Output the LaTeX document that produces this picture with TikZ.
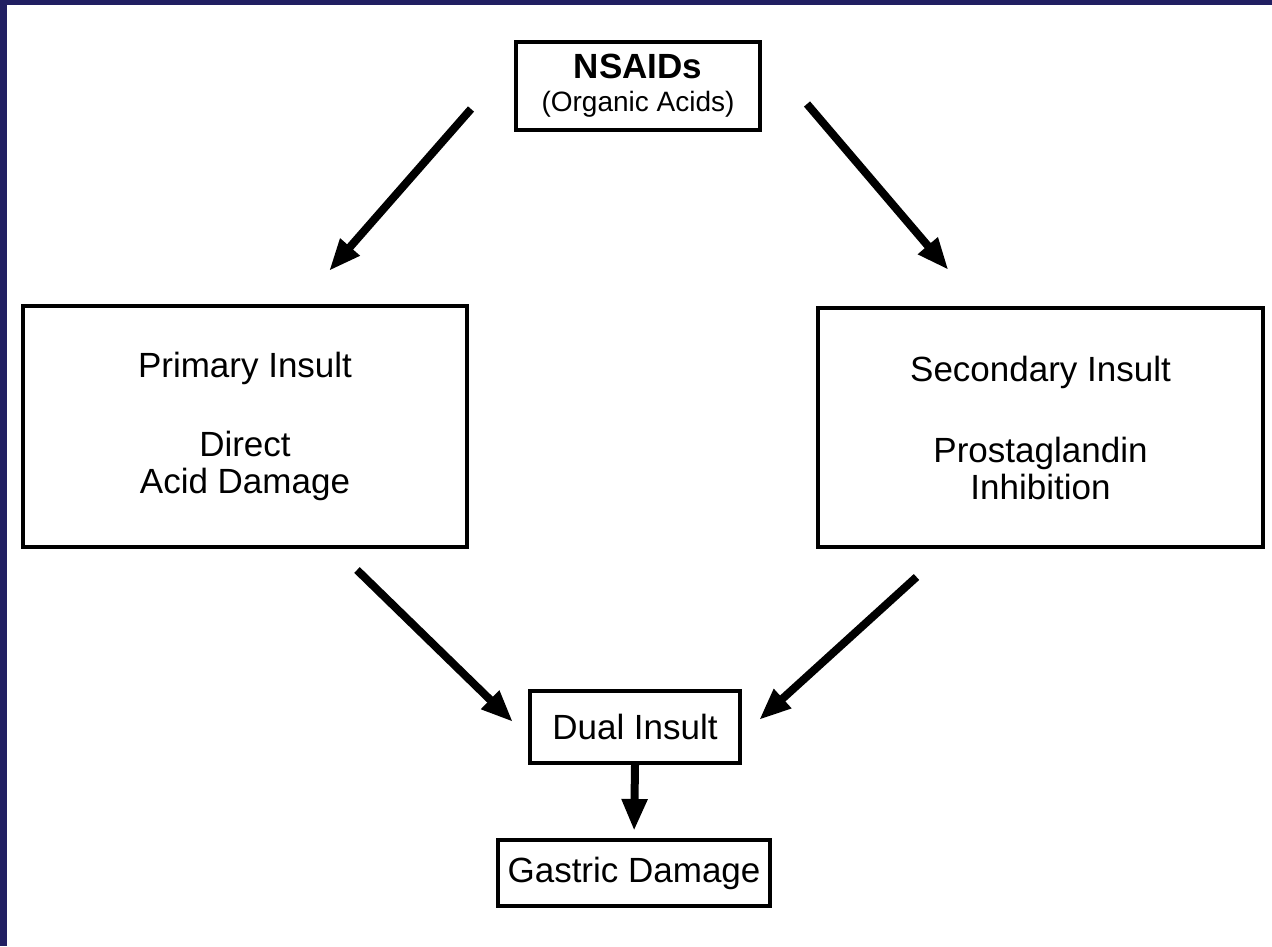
\documentclass[tikz,border=0pt]{standalone}
\usepackage{fontspec}
\setmainfont{Liberation Sans}
\usepackage{tikz}
\usetikzlibrary{arrows.meta, positioning}
\definecolor{mynavy}{RGB}{33,31,98}
\tikzset{
  box/.style={rectangle, draw=black, fill=white, line width=2pt,
    align=center, inner sep=0pt,
    font=\fontsize{17.5}{18.5}\selectfont},
  arrow/.style={-{Triangle[length=16pt,width=12pt]}, line width=4pt, black},
}

\begin{document}
\begin{tikzpicture}[x=0.5pt, y=-0.5pt]
  % Frame
  \fill[white] (0,0) rectangle (1272,946);
  \fill[mynavy] (0,0) rectangle (7,946);
  \fill[mynavy] (0,0) rectangle (1272,5);
  \useasboundingbox (0,0) rectangle (1272,946);

  % Boxes
  \node[box, minimum width=122pt, minimum height=44pt] (nsaid) at (638,86)
    {\textbf{NSAIDs}\\[-2pt]{\fontsize{14}{15}\selectfont (Organic Acids)}};
  \node[box, minimum width=222pt, minimum height=120.5pt] (primary) at (245,426.5)
    {Primary Insult\\[21pt]Direct\\Acid Damage};
  \node[box, minimum width=222.5pt, minimum height=119.5pt] (secondary) at (1040.5,427.5)
    {Secondary Insult\\[22pt]Prostaglandin\\Inhibition};
  \node[box, minimum width=105pt, minimum height=36pt] (dual) at (635,727) {Dual Insult};
  \node[box, minimum width=136pt, minimum height=33pt] (gastric) at (634,873) {Gastric Damage};

  % Paths
  \draw[arrow] ([shift={(-43,23)}]nsaid.west) -- ([shift={(84,-33)}]primary.north);
  \draw[arrow] ([shift={(45,18)}]nsaid.east) -- ([shift={(-92,-36)}]secondary.north);
  \draw[arrow] ([shift={(112,21)}]primary.south) -- ([shift={(-15,-5)}]dual.west);
  \draw[arrow] ([shift={(-124,28)}]secondary.south) -- ([shift={(17,-7)}]dual.east);
  \draw[arrow, shorten >=3.5pt] (dual.south) -- (gastric.north);
\end{tikzpicture}
\end{document}
